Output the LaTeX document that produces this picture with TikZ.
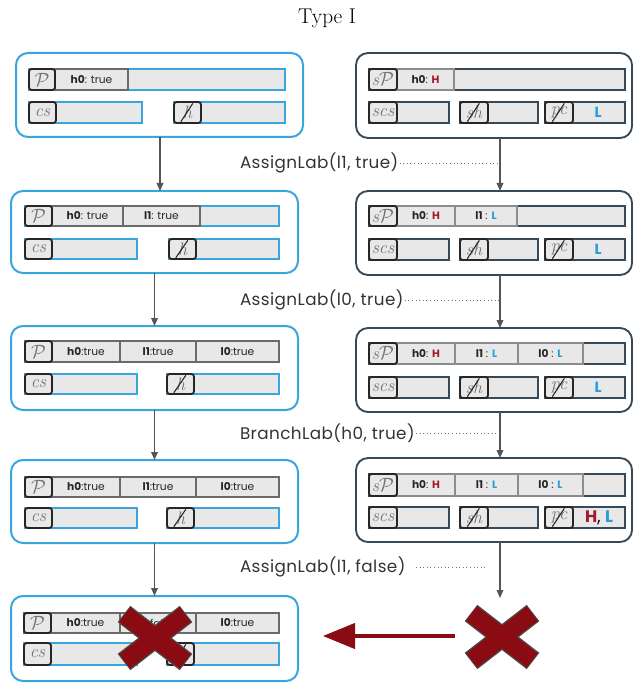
\documentclass[tikz,border=0pt]{standalone}
\usepackage{fontspec}
\newfontfamily\sff{Poppins}
\newfontfamily\sffwide[LetterSpace=2.5]{Poppins}
\usetikzlibrary{arrows.meta}

\definecolor{lblue}{HTML}{3AA6DE}
\definecolor{slate}{HTML}{34495A}
\definecolor{cellfill}{HTML}{E8E8E8}
\definecolor{celledge}{HTML}{6A6A6A}
\definecolor{hred}{HTML}{A3182A}
\definecolor{lcyan}{HTML}{2A9BDB}
\definecolor{xred}{HTML}{8A0B12}
\definecolor{flow}{HTML}{555555}

% a rectangular node given by its corners (x1,y1) (x2,y2), in pixel units
\newcommand\cellbox[7]{%
  \node[#6, minimum width={(#4-#2)*0.75pt}, minimum height={(#5-#3)*0.75pt}]
    (#1) at ({(#2+#4)/2},{(#3+#5)/2}) {#7};}

% a bold register name followed by its value
\newcommand\reg[2]{{\bfseries #1}#2}
\newcommand\hi{{\bfseries\color{hred}H}}
\newcommand\lo{{\bfseries\color{lcyan}L}}

\tikzset{
  base/.style={inner sep=0pt, outer sep=0pt},
  outerL/.style={base, draw=lblue, line width=1.5pt, rounded corners=9pt},
  outerR/.style={base, draw=slate, line width=1.4pt, rounded corners=9pt},
  rowL/.style={base, draw=lblue, fill=cellfill, line width=1.2pt},
  rowR/.style={base, draw=slate, fill=cellfill, line width=1.3pt},
  txtcell/.style={base, draw=celledge, fill=cellfill, line width=1.1pt,
    font=\sff\fontsize{8}{9}\selectfont, text=black!85},
  txtcellR/.style={txtcell, draw=black!45},
  icon/.style={base, draw=black!85, fill=cellfill, line width=1.4pt,
    rounded corners=2pt, font=\itshape\fontsize{13.5}{14}\selectfont, text=black!55},
  slash/.style={draw=black!85, line width=0.8pt},
  flowarrow/.style={draw=flow, line width=1pt, -{Triangle[length=6pt,width=5pt]}},
  steplabel/.style={base, anchor=west, font=\sffwide\fontsize{12.6}{14}\selectfont, text=black!80},
  dots/.style={draw=black!55, dotted, line width=0.7pt},
  pcval/.style={font=\sff\fontsize{11}{13}\selectfont},
  xbar/.style={line cap=butt},
}

% the slash drawn through an icon
\newcommand\slashicon[1]{%
  \draw[slash] ([xshift=-5pt,yshift=1pt]#1.south) -- ([xshift=4pt,yshift=-1pt]#1.north);}

% a red cross centred at (#1,#2)
\newcommand\redcross[2]{%
  \draw[xbar, line width=15.5pt, draw=black!70] (#1-31,#2-24) -- (#1+31,#2+24)
    (#1-31,#2+24) -- (#1+31,#2-24);
  \draw[xbar, line width=13.5pt, draw=xred] (#1-30.3,#2-23.4) -- (#1+30.3,#2+23.4)
    (#1-30.3,#2+23.4) -- (#1+30.3,#2-23.4);}

\begin{document}
\begin{tikzpicture}[x=0.75pt, y=-0.75pt]
\useasboundingbox (0,0) rectangle (635,684);

\node[base, font=\fontsize{16}{19}\selectfont] (title) at (327,18) {Type I};

% ---------------- left column: concrete states ----------------
% state 1
\cellbox{L1}{16}{53}{303}{137}{outerL}{}
\cellbox{L1r}{29}{69}{285}{90}{rowL}{}
\cellbox{L1a}{55}{69}{128}{90}{txtcell}{\reg{h0}{: true}}
\cellbox{L1p}{29}{69}{55}{90}{icon}{$\mathcal{P}$}
\cellbox{L1c}{29}{102}{142}{123}{rowL}{}
\cellbox{L1ci}{29}{102}{56}{123}{icon}{cs}
\cellbox{L1h}{174}{102}{285}{123}{rowL}{}
\cellbox{L1hi}{174}{102}{201}{123}{icon}{h}
\slashicon{L1hi}

% state 2
\cellbox{L2}{11}{191}{298}{273}{outerL}{}
\cellbox{L2r}{25}{206}{279}{226}{rowL}{}
\cellbox{L2a}{52}{206}{123}{226}{txtcell}{\reg{h0}{: true}}
\cellbox{L2b}{123}{206}{200}{226}{txtcell}{\reg{l1}{: true}}
\cellbox{L2p}{25}{206}{52}{226}{icon}{$\mathcal{P}$}
\cellbox{L2c}{25}{239}{137}{259}{rowL}{}
\cellbox{L2ci}{25}{239}{52}{259}{icon}{cs}
\cellbox{L2h}{169}{239}{279}{259}{rowL}{}
\cellbox{L2hi}{169}{239}{196}{259}{icon}{h}
\slashicon{L2hi}

% state 3
\cellbox{L3}{11}{326}{298}{410}{outerL}{}
\cellbox{L3r}{25}{341}{279}{362}{txtcell}{}
\cellbox{L3a}{52}{341}{120}{362}{txtcell}{\reg{h0}{:true}}
\cellbox{L3b}{120}{341}{196}{362}{txtcell}{\reg{l1}{:true}}
\cellbox{L3d}{196}{341}{279}{362}{txtcell}{\reg{l0}{:true}}
\cellbox{L3p}{25}{341}{52}{362}{icon}{$\mathcal{P}$}
\cellbox{L3c}{25}{374}{137}{394}{rowL}{}
\cellbox{L3ci}{25}{374}{52}{394}{icon}{cs}
\cellbox{L3h}{167}{374}{279}{394}{rowL}{}
\cellbox{L3hi}{167}{374}{194}{394}{icon}{h}
\slashicon{L3hi}

% state 4
\cellbox{L4}{11}{460}{298}{543}{outerL}{}
\cellbox{L4r}{25}{477}{279}{497}{txtcell}{}
\cellbox{L4a}{52}{477}{120}{497}{txtcell}{\reg{h0}{:true}}
\cellbox{L4b}{120}{477}{196}{497}{txtcell}{\reg{l1}{:true}}
\cellbox{L4d}{196}{477}{279}{497}{txtcell}{\reg{l0}{:true}}
\cellbox{L4p}{25}{477}{52}{497}{icon}{$\mathcal{P}$}
\cellbox{L4c}{25}{508}{137}{528}{rowL}{}
\cellbox{L4ci}{25}{508}{52}{528}{icon}{cs}
\cellbox{L4h}{167}{508}{279}{528}{rowL}{}
\cellbox{L4hi}{167}{508}{194}{528}{icon}{h}
\slashicon{L4hi}

% state 5 (rejected)
\cellbox{L5}{11}{596}{298}{681}{outerL}{}
\cellbox{L5r}{24}{613}{279}{633}{txtcell}{}
\cellbox{L5a}{51}{613}{120}{633}{txtcell}{\reg{h0}{:true}}
\cellbox{L5b}{120}{613}{196}{633}{txtcell}{\reg{l1}{:false}}
\cellbox{L5d}{196}{613}{279}{633}{txtcell}{\reg{l0}{:true}}
\cellbox{L5p}{24}{613}{51}{633}{icon}{$\mathcal{P}$}
\cellbox{L5c}{24}{643}{137}{665}{rowL}{}
\cellbox{L5ci}{24}{643}{51}{665}{icon}{cs}
\cellbox{L5h}{167}{643}{279}{665}{rowL}{}
\cellbox{L5hi}{167}{643}{194}{665}{icon}{h}
\slashicon{L5hi}

% ---------------- right column: labelled states ----------------
% state 1
\cellbox{R1}{356}{53}{632}{138}{outerR}{}
\cellbox{R1r}{369}{69}{625}{90}{rowR}{}
\cellbox{R1a}{397}{69}{454}{90}{txtcellR}{\reg{h0}{: }\hi}
\cellbox{R1p}{369}{69}{397}{90}{icon}{s$\mathcal{P}$}
\cellbox{R1s}{369}{102}{449}{123}{rowR}{}
\cellbox{R1si}{369}{102}{397}{123}{icon}{scs}
\cellbox{R1h}{460}{102}{538}{123}{rowR}{}
\cellbox{R1hi}{460}{102}{488}{123}{icon}{sh}
\slashicon{R1hi}
\cellbox{R1c}{545}{102}{625}{123}{rowR}{}
\cellbox{R1ci}{545}{102}{573}{123}{icon}{pc}
\slashicon{R1ci}
\node[pcval] (R1v) at (598,112.5) {\lo};

% state 2
\cellbox{R2}{356}{191}{632}{275}{outerR}{}
\cellbox{R2r}{369}{206}{625}{226}{rowR}{}
\cellbox{R2a}{397}{206}{455}{226}{txtcellR}{\reg{h0}{: }\hi}
\cellbox{R2b}{455}{206}{517}{226}{txtcellR}{\reg{l1}{ : }\lo}
\cellbox{R2p}{369}{206}{397}{226}{icon}{s$\mathcal{P}$}
\cellbox{R2s}{369}{239}{449}{260}{rowR}{}
\cellbox{R2si}{369}{239}{397}{260}{icon}{scs}
\cellbox{R2h}{460}{239}{538}{260}{rowR}{}
\cellbox{R2hi}{460}{239}{488}{260}{icon}{sh}
\slashicon{R2hi}
\cellbox{R2c}{545}{239}{625}{260}{rowR}{}
\cellbox{R2ci}{545}{239}{573}{260}{icon}{pc}
\slashicon{R2ci}
\node[pcval] (R2v) at (598,249.5) {\lo};

% state 3
\cellbox{R3}{356}{328}{632}{412}{outerR}{}
\cellbox{R3r}{369}{343}{625}{364}{rowR}{}
\cellbox{R3a}{397}{343}{455}{364}{txtcellR}{\reg{h0}{: }\hi}
\cellbox{R3b}{455}{343}{518}{364}{txtcellR}{\reg{l1}{ : }\lo}
\cellbox{R3d}{518}{343}{583}{364}{txtcellR}{\reg{l0}{ : }\lo}
\cellbox{R3p}{369}{343}{397}{364}{icon}{s$\mathcal{P}$}
\cellbox{R3s}{369}{377}{449}{398}{rowR}{}
\cellbox{R3si}{369}{377}{397}{398}{icon}{scs}
\cellbox{R3h}{460}{377}{538}{398}{rowR}{}
\cellbox{R3hi}{460}{377}{488}{398}{icon}{sh}
\slashicon{R3hi}
\cellbox{R3c}{545}{377}{625}{398}{rowR}{}
\cellbox{R3ci}{545}{377}{573}{398}{icon}{pc}
\slashicon{R3ci}
\node[pcval] (R3v) at (598,387.5) {\lo};

% state 4
\cellbox{R4}{356}{458}{632}{542}{outerR}{}
\cellbox{R4r}{369}{474}{625}{496}{rowR}{}
\cellbox{R4a}{397}{474}{455}{496}{txtcellR}{\reg{h0}{: }\hi}
\cellbox{R4b}{455}{474}{518}{496}{txtcellR}{\reg{l1}{ : }\lo}
\cellbox{R4d}{518}{474}{583}{496}{txtcellR}{\reg{l0}{ : }\lo}
\cellbox{R4p}{369}{474}{397}{496}{icon}{s$\mathcal{P}$}
\cellbox{R4s}{369}{507}{449}{528}{rowR}{}
\cellbox{R4si}{369}{507}{397}{528}{icon}{scs}
\cellbox{R4h}{460}{507}{538}{528}{rowR}{}
\cellbox{R4hi}{460}{507}{488}{528}{icon}{sh}
\slashicon{R4hi}
\cellbox{R4c}{545}{507}{625}{528}{rowR}{}
\cellbox{R4ci}{545}{507}{573}{528}{icon}{pc}
\slashicon{R4ci}
\node[pcval, font=\sff\fontsize{12.5}{14}\selectfont] (R4v) at (599,517.5) {\hi, \lo};

% ---------------- transitions ----------------
\coordinate (lx) at (160,0);
\coordinate (rx) at (500,0);
\coordinate (R5) at (502,598);

\draw[flowarrow] (L1.south -| lx) -- (L2.north -| lx);
\draw[flowarrow] (L2.south) -- (L3.north);
\draw[flowarrow] (L3.south) -- (L4.north);
\draw[flowarrow] (L4.south) -- (L5.north);

\draw[flowarrow] (R1.south -| rx) -- (R2.north -| rx);
\draw[flowarrow] (R2.south -| rx) -- (R3.north -| rx);
\draw[flowarrow] (R3.south -| rx) -- (R4.north -| rx);
\draw[flowarrow] (R4.south -| rx) -- (R5 -| rx);

\node[steplabel] (s1) at (240,163) {AssignLab(l1, true)};
\node[steplabel] (s2) at (240,300) {AssignLab(l0, true)};
\node[steplabel] (s3) at (240,433) {BranchLab(h0, true)};
\node[steplabel] (s4) at (240,567) {AssignLab(l1, false)};

\draw[dots] ([xshift=1pt]s1.east) -- (s1.east -| rx);
\draw[dots] ([xshift=1pt]s2.east) -- (s2.east -| rx);
\draw[dots] ([xshift=1pt]s3.east) -- (s3.east -| rx);
\draw[dots, shorten <=8pt, shorten >=11pt] (s4.east) -- (s4.east -| rx);

% ---------------- rejection ----------------
\redcross{155}{638}
\redcross{502}{637}
\coordinate (xr) at (502,636);
\draw[draw=xred, line width=2.4pt, shorten <=35.25pt, shorten >=18.75pt,
  -{Triangle[length=24pt,width=19pt]}] (xr) -- (L5.east |- xr);

\end{tikzpicture}
\end{document}
